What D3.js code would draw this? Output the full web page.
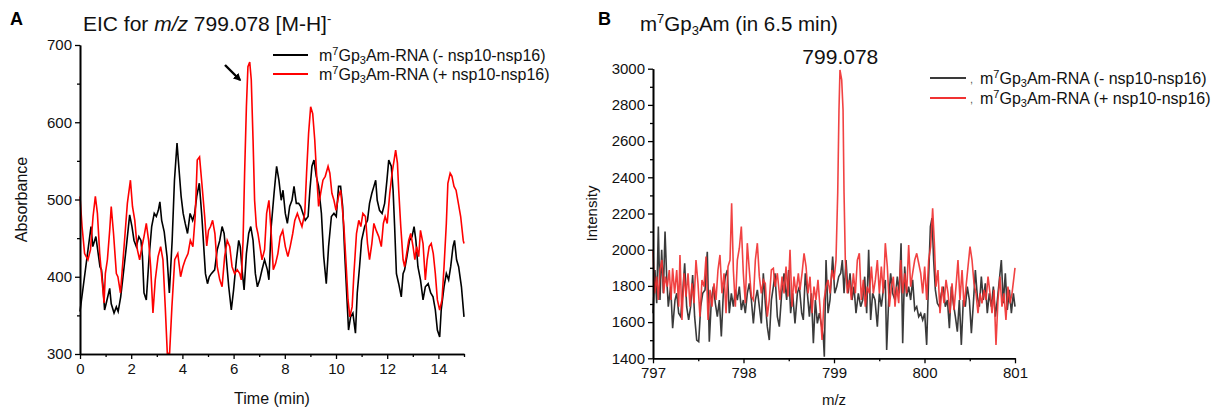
<!DOCTYPE html>
<html>
<head>
<meta charset="utf-8">
<script src="https://cdn.jsdelivr.net/npm/d3@7"></script>
<style>
  body { margin: 0; background: #fff; }
  svg { font-family: "Liberation Sans", Arial, sans-serif; }
</style>
</head>
<body>
<div id="chart"></div>
<script>
// panel A: EIC, [time (min), absorbance]
const eicMinus = [[0.0,355],[0.43,465],[0.5,439],[0.62,452],[0.78,413],[0.84,409],[0.9,387],[0.96,357],[1.02,365],[1.16,385],[1.22,365],[1.33,353],[1.42,361],[1.49,355],[1.59,374],[1.68,400],[1.81,439],[1.94,480],[2.03,465],[2.11,447],[2.2,439],[2.3,452],[2.38,447],[2.44,426],[2.5,379],[2.59,370],[2.7,426],[2.8,465],[2.9,482],[2.98,478],[3.06,486],[3.12,497],[3.19,473],[3.29,458],[3.4,426],[3.49,379],[3.6,447],[3.69,525],[3.79,573],[3.88,534],[3.95,504],[4.03,482],[4.11,469],[4.2,456],[4.3,482],[4.4,473],[4.48,482],[4.56,504],[4.66,521],[4.76,478],[4.9,404],[4.98,391],[5.05,400],[5.13,404],[5.26,409],[5.36,435],[5.46,447],[5.55,465],[5.63,456],[5.72,422],[5.81,387],[5.91,357],[6.0,383],[6.11,422],[6.2,447],[6.26,439],[6.33,409],[6.41,383],[6.5,430],[6.59,456],[6.67,465],[6.76,447],[6.85,404],[6.93,387],[7.02,396],[7.11,409],[7.21,422],[7.32,409],[7.38,396],[7.47,465],[7.58,508],[7.68,543],[7.77,525],[7.86,499],[7.93,512],[8.02,482],[8.1,469],[8.19,491],[8.28,499],[8.36,517],[8.45,495],[8.54,495],[8.62,491],[8.71,482],[8.8,473],[8.91,478],[8.98,512],[9.06,543],[9.14,551],[9.23,530],[9.32,517],[9.43,482],[9.52,426],[9.62,391],[9.71,439],[9.82,478],[9.92,482],[10.01,478],[10.1,517],[10.18,517],[10.26,491],[10.34,430],[10.43,370],[10.49,331],[10.57,348],[10.66,353],[10.76,327],[10.83,379],[10.92,413],[11.0,447],[11.12,465],[11.23,473],[11.31,495],[11.4,508],[11.48,517],[11.55,525],[11.61,499],[11.7,486],[11.8,482],[11.9,495],[11.99,525],[12.06,551],[12.16,543],[12.23,512],[12.29,465],[12.36,404],[12.45,391],[12.55,374],[12.62,404],[12.68,409],[12.77,426],[12.87,447],[12.97,452],[13.05,465],[13.12,447],[13.2,413],[13.3,396],[13.4,370],[13.49,387],[13.6,391],[13.7,379],[13.79,374],[13.88,357],[13.96,331],[14.05,322],[14.11,357],[14.22,387],[14.31,404],[14.4,396],[14.48,413],[14.57,439],[14.63,447],[14.71,422],[14.79,413],[14.9,387],[15.0,348]];

const eicPlus = [[0.0,504],[0.08,465],[0.18,430],[0.31,422],[0.41,435],[0.51,478],[0.6,504],[0.68,482],[0.77,430],[0.86,396],[0.94,366],[0.99,404],[1.07,422],[1.16,460],[1.22,491],[1.31,456],[1.42,404],[1.48,400],[1.58,379],[1.65,409],[1.74,447],[1.85,495],[1.97,525],[2.05,491],[2.14,473],[2.24,435],[2.33,422],[2.42,439],[2.5,452],[2.59,469],[2.68,447],[2.76,413],[2.85,353],[2.94,396],[3.05,426],[3.15,439],[3.24,422],[3.33,361],[3.41,301],[3.5,301],[3.59,361],[3.7,422],[3.82,430],[3.93,400],[4.02,413],[4.11,422],[4.22,430],[4.31,447],[4.41,439],[4.5,478],[4.58,551],[4.67,555],[4.76,521],[4.87,478],[4.95,440],[5.02,460],[5.1,465],[5.18,473],[5.27,456],[5.36,413],[5.46,396],[5.55,387],[5.65,426],[5.75,447],[5.85,439],[5.94,413],[6.04,404],[6.14,409],[6.24,404],[6.3,396],[6.37,447],[6.43,534],[6.5,620],[6.56,672],[6.63,678],[6.69,655],[6.76,577],[6.82,499],[6.89,465],[6.95,456],[7.03,439],[7.11,422],[7.21,435],[7.29,482],[7.38,499],[7.47,456],[7.55,409],[7.64,417],[7.73,430],[7.82,452],[7.92,460],[8.02,439],[8.12,426],[8.21,439],[8.31,456],[8.39,473],[8.49,482],[8.58,473],[8.67,465],[8.78,482],[8.85,534],[8.93,586],[9.01,620],[9.09,611],[9.17,577],[9.24,534],[9.32,491],[9.4,508],[9.49,525],[9.58,530],[9.69,543],[9.76,534],[9.84,508],[9.92,499],[10.0,486],[10.1,504],[10.18,512],[10.22,499],[10.31,465],[10.4,413],[10.47,370],[10.54,348],[10.63,361],[10.7,404],[10.8,456],[10.89,473],[10.97,465],[11.05,482],[11.15,478],[11.23,443],[11.31,422],[11.4,443],[11.48,469],[11.57,460],[11.67,452],[11.77,439],[11.85,469],[11.92,478],[12.0,469],[12.1,508],[12.19,534],[12.27,551],[12.33,564],[12.4,547],[12.45,512],[12.53,465],[12.62,422],[12.68,413],[12.76,430],[12.84,447],[12.92,456],[13.01,439],[13.08,422],[13.15,439],[13.23,426],[13.3,460],[13.4,443],[13.49,396],[13.56,422],[13.64,439],[13.72,443],[13.8,430],[13.88,404],[13.96,370],[14.05,357],[14.14,370],[14.22,413],[14.31,469],[14.37,521],[14.46,534],[14.53,530],[14.61,517],[14.69,512],[14.76,499],[14.87,478],[14.97,447],[15.0,443]];

// panel B: spectrum at 6.5 min, [m/z, intensity]
const specMinus = [[797.000,1649],[797.022,1888],[797.041,1704],[797.059,2128],[797.077,1722],[797.096,1999],[797.114,1759],[797.133,2100],[797.151,1851],[797.169,1685],[797.195,1796],[797.217,1566],[797.243,1722],[797.262,1759],[797.284,1649],[797.306,1630],[797.328,1759],[797.350,1925],[797.372,1685],[797.394,1612],[797.416,1685],[797.438,1860],[797.460,1630],[797.483,1501],[797.505,1492],[797.527,1685],[797.549,1759],[797.575,1778],[797.600,1989],[797.622,1492],[797.645,1722],[797.667,1796],[797.689,1704],[797.711,1630],[797.733,1722],[797.755,1520],[797.777,1759],[797.799,1851],[797.821,1888],[797.843,1649],[797.866,1759],[797.888,1685],[797.910,1778],[797.932,1722],[797.954,1796],[797.976,1667],[797.998,1722],[798.020,1649],[798.042,1759],[798.064,1814],[798.087,1722],[798.109,1593],[798.131,1722],[798.153,1778],[798.175,1685],[798.197,1593],[798.219,1870],[798.241,1704],[798.263,1575],[798.285,1501],[798.308,1722],[798.330,1796],[798.348,1870],[798.374,1630],[798.396,1575],[798.422,1759],[798.448,1870],[798.477,1722],[798.499,1888],[798.521,1649],[798.543,1759],[798.569,1593],[798.595,1759],[798.617,1796],[798.643,1649],[798.661,1612],[798.683,1870],[798.706,1759],[798.728,1630],[798.750,1759],[798.772,1483],[798.794,1722],[798.816,1593],[798.838,1649],[798.864,1575],[798.882,1520],[798.893,1409],[798.912,1943],[798.934,1649],[798.956,1722],[798.985,1962],[799.008,1759],[799.030,1796],[799.052,1851],[799.074,1870],[799.092,1943],[799.111,1759],[799.133,1943],[799.155,1759],[799.177,1870],[799.199,1722],[799.221,1796],[799.243,1649],[799.269,1759],[799.295,1685],[799.317,1722],[799.339,1851],[799.361,1649],[799.383,1999],[799.405,1612],[799.427,1759],[799.453,1722],[799.479,1575],[799.501,1759],[799.523,1685],[799.545,1778],[799.567,1833],[799.582,1446],[799.604,1722],[799.626,1870],[799.648,1759],[799.674,1722],[799.700,1851],[799.722,1759],[799.741,2036],[799.759,1483],[799.781,1907],[799.803,1741],[799.825,1796],[799.847,1722],[799.869,1833],[799.892,1667],[799.914,1685],[799.936,1630],[799.958,1649],[799.980,1612],[800.002,1649],[800.024,1474],[800.046,1851],[800.065,2128],[800.083,2174],[800.101,1943],[800.120,1778],[800.142,1704],[800.164,1685],[800.186,1759],[800.208,1796],[800.230,1685],[800.253,1722],[800.275,1566],[800.297,1796],[800.319,1704],[800.341,1630],[800.363,1547],[800.385,1722],[800.407,1474],[800.429,1722],[800.451,1685],[800.473,1796],[800.496,1722],[800.518,1538],[800.540,1704],[800.562,1888],[800.584,1741],[800.606,1685],[800.628,1851],[800.650,1722],[800.672,1814],[800.694,1649],[800.716,1759],[800.739,1685],[800.761,1796],[800.783,1630],[800.805,1722],[800.827,1833],[800.849,1943],[800.871,1704],[800.893,1870],[800.915,1667],[800.938,1778],[800.960,1649],[800.982,1759],[801.000,1685]];

const specPlus = [[797.000,1999],[797.018,1759],[797.041,1851],[797.059,1722],[797.077,1888],[797.099,1943],[797.118,1759],[797.136,1851],[797.158,1796],[797.180,1888],[797.199,1722],[797.217,1897],[797.239,1759],[797.262,1888],[797.284,1685],[797.298,1971],[797.320,1612],[797.343,1870],[797.365,1741],[797.387,1870],[797.409,1685],[797.431,1814],[797.453,1704],[797.475,1943],[797.497,1814],[797.519,1630],[797.541,1833],[797.564,1796],[797.586,1962],[797.608,1612],[797.630,1778],[797.652,1685],[797.674,1814],[797.696,1722],[797.718,1888],[797.740,1971],[797.762,1759],[797.785,1870],[797.807,1649],[797.829,1907],[797.851,1943],[797.869,2257],[797.888,1888],[797.910,1685],[797.932,1943],[797.954,2008],[797.976,2128],[797.998,1870],[798.020,1704],[798.042,2036],[798.064,1888],[798.087,1741],[798.109,1722],[798.131,1943],[798.153,2036],[798.175,1851],[798.197,1759],[798.219,1833],[798.241,1814],[798.263,1630],[798.285,1722],[798.308,1888],[798.330,1897],[798.348,1796],[798.374,1870],[798.403,1722],[798.426,1851],[798.448,1759],[798.470,1907],[798.492,1741],[798.514,1999],[798.536,1685],[798.558,1851],[798.580,1759],[798.606,1870],[798.624,1778],[798.647,1870],[798.669,1980],[798.691,1907],[798.713,1759],[798.735,1851],[798.757,1649],[798.779,1796],[798.801,1722],[798.823,1833],[798.845,1685],[798.868,1501],[798.890,1722],[798.912,1796],[798.934,1833],[798.956,1759],[798.978,1888],[799.000,1833],[799.022,1943],[799.041,2312],[799.055,2772],[799.066,2993],[799.085,2938],[799.100,2772],[799.111,2312],[799.125,1943],[799.147,1759],[799.170,1833],[799.192,1722],[799.214,1870],[799.236,1759],[799.258,1943],[799.280,1980],[799.302,1722],[799.324,1833],[799.346,1685],[799.368,1796],[799.391,1759],[799.413,1907],[799.435,1759],[799.457,1833],[799.479,1943],[799.501,1759],[799.523,1907],[799.545,1759],[799.567,2036],[799.589,1907],[799.612,1685],[799.634,1796],[799.656,1851],[799.674,1685],[799.693,1796],[799.715,1704],[799.737,1943],[799.759,1759],[799.781,1870],[799.803,1759],[799.825,2026],[799.847,1796],[799.869,1870],[799.892,1943],[799.914,1980],[799.936,1925],[799.958,1870],[799.980,1759],[800.002,1907],[800.024,1722],[800.046,1943],[800.068,2017],[800.090,2229],[800.109,2036],[800.127,1796],[800.149,1888],[800.171,1649],[800.194,1796],[800.216,1704],[800.238,1833],[800.260,1759],[800.282,1649],[800.304,1814],[800.326,1667],[800.348,1796],[800.370,1943],[800.392,1722],[800.415,1888],[800.437,1685],[800.459,1796],[800.481,1907],[800.503,2017],[800.525,1943],[800.547,1814],[800.569,1759],[800.591,1649],[800.613,1759],[800.635,1704],[800.658,1778],[800.680,1722],[800.702,1851],[800.724,1759],[800.746,1649],[800.768,1778],[800.790,1474],[800.812,1722],[800.834,1851],[800.856,1685],[800.878,1759],[800.900,1612],[800.922,1796],[800.945,1704],[800.967,1759],[800.989,1851],[801.000,1900]];

const ticksA_x = [0, 2, 4, 6, 8, 10, 12, 14];
const minorA_x = [1, 3, 5, 7, 9, 11, 13, 15];
const ticksA_y = [300, 400, 500, 600, 700];
const minorA_y = [350, 450, 550, 650];
const ticksB_x = [797, 798, 799, 800, 801];
const minorB_x = [797.5, 798.5, 799.5, 800.5];
const ticksB_y = [1400, 1600, 1800, 2000, 2200, 2400, 2600, 2800, 3000];
const minorB_y = [1500, 1700, 1900, 2100, 2300, 2500, 2700, 2900];

const width = 1225, height = 410;

const svg = d3.select("#chart").append("svg")
  .attr("width", width)
  .attr("height", height);

// draws left + bottom axes with major/minor ticks
function drawAxes(x, y, tx, mx, ty, my) {
  const x0 = x.range()[0], yb = y.range()[0];
  const g = svg.append("g");
  const fmt = d3.format("d");

  g.append("g").attr("transform", `translate(0,${yb})`)
    .call(d3.axisBottom(x).tickValues(mx).tickSize(3).tickSizeOuter(0).tickFormat(""));
  g.append("g").attr("transform", `translate(0,${yb})`)
    .call(d3.axisBottom(x).tickValues(tx).tickSize(5).tickSizeOuter(0).tickPadding(4).tickFormat(fmt));
  g.append("g").attr("transform", `translate(${x0},0)`)
    .call(d3.axisLeft(y).tickValues(my).tickSize(3).tickSizeOuter(0).tickFormat(""));
  g.append("g").attr("transform", `translate(${x0},0)`)
    .call(d3.axisLeft(y).tickValues(ty).tickSize(5).tickSizeOuter(0).tickPadding(3).tickFormat(fmt));

  g.selectAll(".domain").attr("stroke", "#000").attr("stroke-width", 1.6);
  g.selectAll(".tick line").attr("stroke", "#000").attr("stroke-width", 1.3);
  g.selectAll(".tick text").attr("font-size", 15).attr("fill", "#111")
    .attr("font-family", "Liberation Sans, Arial, sans-serif");
}

// legend item with m7Gp3Am-RNA label
function legendItem(x1, x2, y, color, sign, comma) {
  svg.append("line").attr("x1", x1).attr("x2", x2).attr("y1", y).attr("y2", y)
    .attr("stroke", color).attr("stroke-width", 1.8);
  if (comma) {
    svg.append("text").attr("x", x2 + 4).attr("y", y + 5).attr("font-size", 11)
      .attr("fill", "#555").text(",");
  }
  const t = svg.append("text").attr("x", x2 + (comma ? 14 : 11)).attr("y", y + 6)
    .attr("font-size", 16).attr("fill", "#111");
  t.append("tspan").text("m");
  t.append("tspan").attr("dy", -6).attr("font-size", 11).text("7");
  t.append("tspan").attr("dy", 6).text("Gp");
  t.append("tspan").attr("dy", 3).attr("font-size", 11).text("3");
  t.append("tspan").attr("dy", -3).text(`Am-RNA (${sign} nsp10-nsp16)`);
}

// ---------- panel A ----------
const xA = d3.scaleLinear().domain([0, 15]).range([80, 464]);
const yA = d3.scaleLinear().domain([300, 700]).range([354, 45]);

const lineA = d3.line().x(d => xA(d[0])).y(d => yA(d[1]));

svg.append("path").datum(eicMinus).attr("d", lineA)
  .attr("fill", "none").attr("stroke", "#000").attr("stroke-width", 1.6);
svg.append("path").datum(eicPlus).attr("d", lineA)
  .attr("fill", "none").attr("stroke", "#ff0000").attr("stroke-width", 1.6);

drawAxes(xA, yA, ticksA_x, minorA_x, ticksA_y, minorA_y);

svg.append("text").attr("x", 10).attr("y", 25).attr("font-size", 18)
  .attr("font-weight", "bold").text("A");

const titleA = svg.append("text").attr("x", 83).attr("y", 31).attr("font-size", 21).attr("fill", "#111");
titleA.append("tspan").text("EIC for ");
titleA.append("tspan").attr("font-style", "italic").text("m/z");
titleA.append("tspan").text(" 799.078 [M-H]");
titleA.append("tspan").attr("dy", -8).attr("font-size", 13).text("-");

svg.append("text").attr("transform", `translate(27,${(45 + 354) / 2}) rotate(-90)`)
  .attr("text-anchor", "middle").attr("font-size", 16).attr("fill", "#111").text("Absorbance");
svg.append("text").attr("x", (80 + 464) / 2).attr("y", 404)
  .attr("text-anchor", "middle").attr("font-size", 16).attr("fill", "#111").text("Time (min)");

// arrow pointing at the 6.6 min peak
svg.append("defs").append("marker").attr("id", "head")
  .attr("viewBox", "0 0 10 10").attr("refX", 8).attr("refY", 5)
  .attr("markerWidth", 3.2).attr("markerHeight", 3.2).attr("orient", "auto")
  .append("path").attr("d", "M0,0 L10,5 L0,10 z").attr("fill", "#000");
svg.append("line").attr("x1", 225).attr("y1", 65).attr("x2", 240).attr("y2", 80)
  .attr("stroke", "#000").attr("stroke-width", 2.4).attr("marker-end", "url(#head)");

legendItem(273, 308, 55, "#000", "-", false);
legendItem(273, 308, 74, "#ff0000", "+", false);

// ---------- panel B ----------
const xB = d3.scaleLinear().domain([797, 801]).range([653, 1015]);
const yB = d3.scaleLinear().domain([1400, 3000]).range([358.3, 68.7]);

const lineB = d3.line().x(d => xB(d[0])).y(d => yB(d[1]));

svg.append("path").datum(specMinus).attr("d", lineB)
  .attr("fill", "none").attr("stroke", "#3a3a3a").attr("stroke-width", 1.6);
svg.append("path").datum(specPlus).attr("d", lineB)
  .attr("fill", "none").attr("stroke", "#f03232").attr("stroke-opacity", 0.92).attr("stroke-width", 1.6);

drawAxes(xB, yB, ticksB_x, minorB_x, ticksB_y, minorB_y);

svg.append("text").attr("x", 598).attr("y", 25).attr("font-size", 18)
  .attr("font-weight", "bold").text("B");

const titleB = svg.append("text").attr("x", 640).attr("y", 31).attr("font-size", 20.5).attr("fill", "#111");
titleB.append("tspan").text("m");
titleB.append("tspan").attr("dy", -8).attr("font-size", 13).text("7");
titleB.append("tspan").attr("dy", 8).text("Gp");
titleB.append("tspan").attr("dy", 4).attr("font-size", 13).text("3");
titleB.append("tspan").attr("dy", -4).text("Am (in 6.5 min)");

svg.append("text").attr("x", xB(799.07)).attr("y", 64).attr("text-anchor", "middle")
  .attr("font-size", 21).attr("fill", "#111").text("799.078");

svg.append("text").attr("transform", `translate(597,${(68.7 + 358.3) / 2}) rotate(-90)`)
  .attr("text-anchor", "middle").attr("font-size", 15).attr("fill", "#111").text("Intensity");
svg.append("text").attr("x", xB(799)).attr("y", 405)
  .attr("text-anchor", "middle").attr("font-size", 15).attr("fill", "#111").text("m/z");

legendItem(930, 966, 78, "#3a3a3a", "-", true);
legendItem(930, 966, 98, "#f03232", "+", true);
</script>
</body>
</html>
